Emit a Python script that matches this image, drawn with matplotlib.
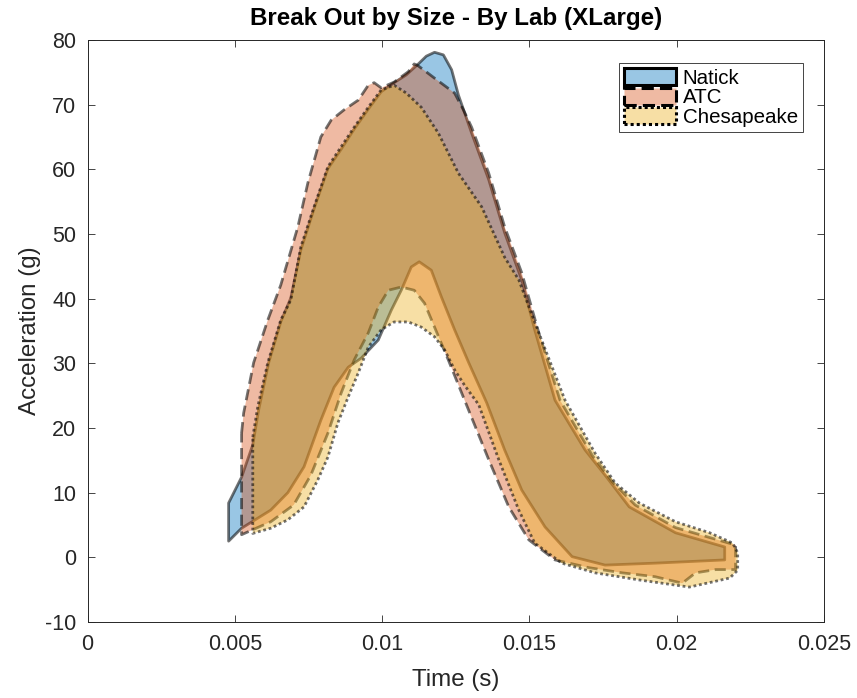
import matplotlib.pyplot as plt
from matplotlib.colors import to_rgba
from matplotlib.patches import Patch

# ── corridor data: upper and lower bounds per lab (time in s, accel in g) ──
natick_t_up = [0.00479, 0.00523, 0.00561, 0.00581, 0.00615, 0.00656, 0.00690, 0.00724,
               0.00769, 0.00816, 0.00861, 0.00905, 0.00953, 0.00997, 0.01041, 0.01082,
               0.01123, 0.01150, 0.01178, 0.01208, 0.01236, 0.01259, 0.01304, 0.01362,
               0.01416, 0.01474, 0.01518, 0.01587, 0.01689, 0.01757, 0.01839, 0.01996,
               0.02163]
natick_up = [8.4, 12.4, 17.4, 22.8, 30.1, 36.4, 40.1, 47.5,
             53.9, 60.1, 63.1, 66.2, 69.3, 72.0, 73.4, 74.6,
             76.3, 77.5, 78.1, 77.7, 75.4, 71.5, 65.6, 58.4,
             50.2, 42.9, 35.2, 24.3, 16.6, 12.7, 7.8, 3.8,
             1.6]
natick_t_lo = [0.00479, 0.00523, 0.00622, 0.00680, 0.00735, 0.00792, 0.00837, 0.00885,
               0.00929, 0.00987, 0.01031, 0.01065, 0.01099, 0.01126, 0.01167, 0.01201,
               0.01246, 0.01294, 0.01355, 0.01416, 0.01474, 0.01553, 0.01645, 0.01757,
               0.01927, 0.02163]
natick_lo = [2.5, 4.5, 7.3, 10.0, 14.0, 21.2, 26.3, 29.4,
             30.8, 33.6, 38.2, 41.3, 44.9, 45.7, 44.4, 40.3,
             35.2, 30.1, 23.9, 16.6, 10.4, 4.7, 0.1, -1.2,
             -0.9, -0.4]

atc_t_up = [0.00523, 0.00530, 0.00564, 0.00612, 0.00656, 0.00714, 0.00748, 0.00792,
            0.00827, 0.00871, 0.00919, 0.00953, 0.00973, 0.00997, 0.01041, 0.01089,
            0.01109, 0.01123, 0.01178, 0.01246, 0.01276, 0.01304, 0.01362, 0.01416,
            0.01474, 0.01532, 0.01604, 0.01713, 0.01781, 0.01859, 0.01996, 0.02200]
atc_up = [19.2, 22.3, 30.1, 36.7, 42.1, 51.1, 57.9, 65.0,
          67.6, 69.2, 70.7, 73.0, 73.4, 72.6, 73.5, 75.1,
          76.3, 76.0, 74.1, 71.8, 69.2, 66.5, 59.4, 51.1,
          44.0, 34.7, 24.3, 15.8, 11.7, 8.1, 4.6, 1.9]
atc_t_lo = [0.00523, 0.00622, 0.00700, 0.00758, 0.00816, 0.00861, 0.00905, 0.00953,
            0.00987, 0.01021, 0.01065, 0.01109, 0.01144, 0.01178, 0.01225, 0.01280,
            0.01362, 0.01430, 0.01498, 0.01587, 0.01702, 0.01815, 0.01927, 0.02019,
            0.02064, 0.02132, 0.02200]
atc_lo = [3.5, 5.5, 8.1, 12.7, 19.2, 25.4, 30.5, 34.7,
          38.7, 41.3, 41.8, 41.3, 39.3, 35.6, 30.5, 24.3,
          15.1, 7.8, 2.7, -0.4, -1.6, -2.4, -3.0, -4.0,
          -2.4, -1.9, -1.9]

ches_t_up = [0.00561, 0.00578, 0.00612, 0.00656, 0.00690, 0.00724, 0.00769, 0.00816,
             0.00861, 0.00905, 0.00953, 0.00997, 0.01041, 0.01082, 0.01133, 0.01191,
             0.01259, 0.01338, 0.01416, 0.01464, 0.01532, 0.01621, 0.01723, 0.01791,
             0.01873, 0.01996, 0.02112, 0.02190, 0.02207]
ches_up = [18.6, 23.3, 30.1, 36.7, 39.8, 48.0, 54.2, 60.4,
           63.5, 66.5, 69.6, 72.3, 73.0, 71.8, 69.6, 65.6,
           59.4, 54.2, 46.4, 42.9, 34.7, 24.3, 16.1, 11.5,
           8.4, 5.5, 3.8, 2.2, 0.7]
ches_t_lo = [0.00561, 0.00622, 0.00680, 0.00735, 0.00782, 0.00816, 0.00850, 0.00885,
             0.00919, 0.00953, 0.00997, 0.01041, 0.01089, 0.01133, 0.01178, 0.01212,
             0.01246, 0.01280, 0.01328, 0.01396, 0.01464, 0.01518, 0.01610, 0.01723,
             0.01873, 0.01996, 0.02043, 0.02122, 0.02180, 0.02207]
ches_lo = [3.7, 4.5, 5.8, 7.8, 12.0, 15.5, 20.8, 24.8,
           28.5, 32.5, 35.2, 36.4, 36.4, 35.6, 34.1, 32.1,
           29.0, 26.6, 23.6, 15.1, 7.3, 2.2, -0.9, -2.4,
           -3.5, -4.3, -4.6, -3.8, -3.2, -2.0]

lab_names = ["Natick", "ATC", "Chesapeake"]
lab_colors = ["#0072BD", "#D95319", "#EDB120"]
lab_styles = ["-", (0, (4, 2)), (0, (1, 1))]

x_ticks = [0, 0.005, 0.01, 0.015, 0.02, 0.025]
x_tick_labels = ["0", "0.005", "0.01", "0.015", "0.02", "0.025"]
y_ticks = list(range(-10, 81, 10))

# ── figure ───────────────────────────────────────────────────────────────────
plt.rcParams["font.family"] = ["Liberation Sans", "DejaVu Sans"]
plt.rcParams["axes.unicode_minus"] = False
axis_gray = (0.15, 0.15, 0.15)

fig = plt.figure(figsize=(8.57, 6.98), dpi=100)
ax = fig.add_axes([87.5 / 857, 76 / 698, 736.5 / 857, 582 / 698])

corridors = [
    (natick_t_up, natick_up, natick_t_lo, natick_lo),
    (atc_t_up, atc_up, atc_t_lo, atc_lo),
    (ches_t_up, ches_up, ches_t_lo, ches_lo),
]

handles = []
for (t_up, v_up, t_lo, v_lo), name, col, ls in zip(corridors, lab_names, lab_colors, lab_styles):
    xs = list(t_up) + list(t_lo)[::-1]
    ys = list(v_up) + list(v_lo)[::-1]
    ax.fill(xs, ys, facecolor=to_rgba(col, 0.4), edgecolor=(0, 0, 0, 0.55),
            linewidth=2.0, linestyle=ls, joinstyle="round")
    handles.append(Patch(facecolor=to_rgba(col, 0.4), edgecolor="black",
                         linewidth=2.2, linestyle=ls, label=name))

ax.set_xlim(0, 0.025)
ax.set_ylim(-10, 80)
ax.set_xticks(x_ticks)
ax.set_xticklabels(x_tick_labels)
ax.set_yticks(y_ticks)

ax.tick_params(direction="in", top=True, right=True, length=5, width=0.6,
               colors=axis_gray, labelsize=15.5)
ax.tick_params(axis="x", pad=9)
ax.tick_params(axis="y", pad=8)
for sp in ax.spines.values():
    sp.set_color(axis_gray)
    sp.set_linewidth(0.7)

ax.set_title("Break Out by Size - By Lab (XLarge)", fontsize=17.4,
             fontweight="bold", pad=11, color="black")
ax.set_xlabel("Time (s)", fontsize=17.4, color=axis_gray, labelpad=10)
ax.set_ylabel("Acceleration (g)", fontsize=17.4, color=axis_gray, labelpad=3)

leg = ax.legend(handles=handles, loc="upper right",
                bbox_to_anchor=(0.9715, 0.9605), fontsize=14.8,
                handlelength=2.5, handleheight=0.9, handletextpad=0.35,
                labelspacing=0.0, borderpad=0.25, borderaxespad=0,
                fancybox=False, framealpha=1, edgecolor=axis_gray)
leg.get_frame().set_linewidth(0.6)

fig.savefig("out.png", dpi=100)
plt.close(fig)
